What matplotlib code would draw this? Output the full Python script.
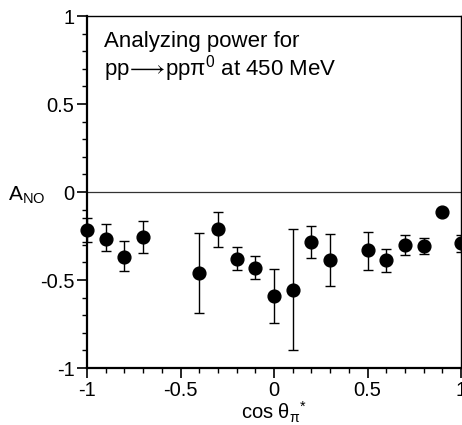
import matplotlib
matplotlib.use("Agg")
import matplotlib.pyplot as plt
from matplotlib.ticker import MultipleLocator, FixedLocator

plt.rcParams['font.family'] = ['Liberation Sans', 'DejaVu Sans']
plt.rcParams['mathtext.fontset'] = 'custom'
plt.rcParams['mathtext.rm'] = 'Liberation Sans'
plt.rcParams['mathtext.it'] = 'Liberation Sans'
plt.rcParams['mathtext.fallback'] = 'stixsans'

cos_theta = [-1.0, -0.9, -0.8, -0.7, -0.4, -0.3, -0.2, -0.1, 0.0, 0.1,
             0.2, 0.3, 0.5, 0.6, 0.7, 0.8, 0.9, 1.0]
a_no = [-0.216, -0.267, -0.367, -0.256, -0.46, -0.212, -0.379, -0.432, -0.591, -0.555,
        -0.286, -0.386, -0.331, -0.386, -0.299, -0.307, -0.114, -0.288]
err_up = [0.066, 0.087, 0.087, 0.093, 0.225, 0.100, 0.067, 0.066, 0.151, 0.343,
          0.093, 0.147, 0.102, 0.064, 0.056, 0.047, 0.0, 0.044]
err_dn = [0.069, 0.070, 0.083, 0.091, 0.230, 0.100, 0.064, 0.064, 0.153, 0.341,
          0.091, 0.150, 0.112, 0.067, 0.061, 0.045, 0.0, 0.055]

fig = plt.figure(figsize=(4.62, 4.25), dpi=100)
ax = fig.add_axes([87/462, (425-368)/425, (461-87)/462, (368-16)/425])

ax.axhline(0, color='#333333', lw=0.9, zorder=1)
ax.errorbar(cos_theta, a_no, yerr=[err_dn, err_up], fmt='o', color='black',
            ms=9.2, elinewidth=1.0, capsize=3.5, capthick=1.0, clip_on=False, zorder=3)

ax.set_xlim(-1, 1)
ax.set_ylim(-1, 1)
ax.xaxis.set_major_locator(FixedLocator([-1, -0.5, 0, 0.5, 1]))
ax.xaxis.set_minor_locator(MultipleLocator(0.1))
ax.yaxis.set_major_locator(FixedLocator([-1, -0.5, 0, 0.5, 1]))
ax.yaxis.set_minor_locator(MultipleLocator(0.1))
ax.set_xticklabels(['-1', '-0.5', '0', '0.5', '1'])
ax.set_yticklabels(['-1', '-0.5', '0', '0.5', '1'])
ax.tick_params(which='major', direction='out', length=7, width=1.2, labelsize=14.5, pad=2)
ax.tick_params(which='minor', direction='out', length=3.6, width=1.0)
for s in ['left', 'bottom']:
    ax.spines[s].set_linewidth(1.6)
for s in ['top', 'right']:
    ax.spines[s].set_linewidth(1.0)

ax.set_xlabel(r'cos $\theta_{\pi}$$^{*}$', fontsize=14.5, labelpad=0)
fig.text(8/462, 1 - 195/425, r'A$_{\mathrm{NO}}$', fontsize=15, va='center', ha='left')

ax.text(0.045, 0.957, 'Analyzing power for\npp$\\!\\longrightarrow\\!$pp\u03c0$^{0}$ at 450 MeV',
        transform=ax.transAxes, fontsize=16, va='top', ha='left', linespacing=1.05)

fig.savefig('out.png', dpi=100)
